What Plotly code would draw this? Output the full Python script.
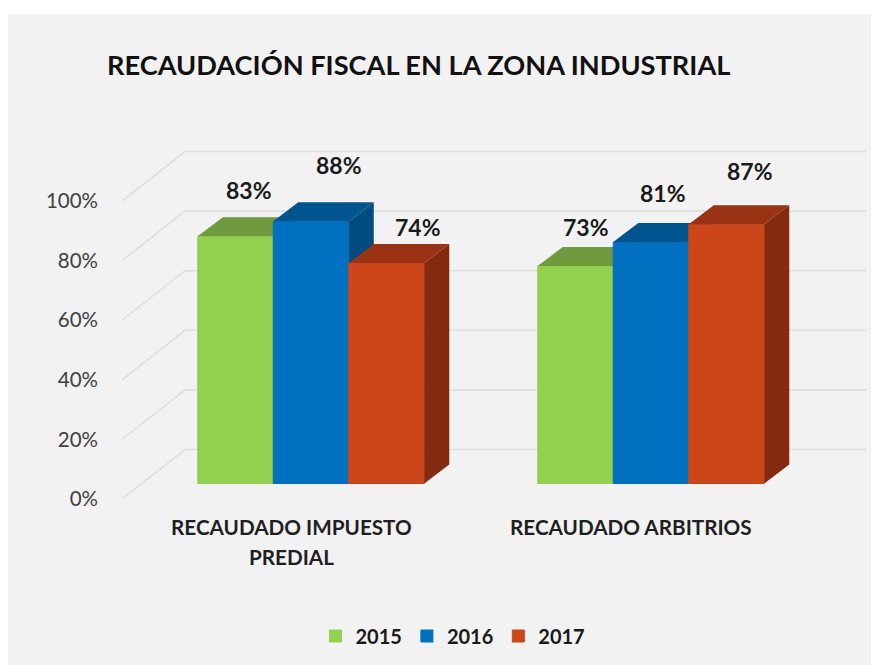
import plotly.graph_objects as go

# ---- data ----
TITLE = "RECAUDACIÓN FISCAL EN LA ZONA INDUSTRIAL"
CATEGORY_LINES = [["RECAUDADO IMPUESTO", "PREDIAL"], ["RECAUDADO ARBITRIOS"]]
YEARS = ["2015", "2016", "2017"]
VALUES_2015 = [83, 73]
VALUES_2016 = [88, 81]
VALUES_2017 = [74, 87]
Y_TICKS = [0, 20, 40, 60, 80, 100]

# ---- style ----
FONT = "Lato"
FRONT = {"2015": "#92D14F", "2016": "#0070C0", "2017": "#CD4619"}
TOP = {"2015": "#6F9A3D", "2016": "#00558F", "2017": "#993313"}
SIDE = {"2015": "#64893A", "2016": "#004B80", "2017": "#832A0F"}
GRID = "#DEDEDE"
BG = "#F2F2F2"
PAGE = 8  # the page's own margin round the figure
W, H = 879 - PAGE, 668 - PAGE
L, R, T, B = 122 - PAGE, 866 - PAGE, 140 - PAGE, 499 - PAGE
PX_PER_CAT = 340.0
PX_PER_PCT = 2.98
X0 = 311.0 - PAGE  # pixel of the first category centre


def xu(px):
    return px / PX_PER_CAT


def yu(px):
    return px / PX_PER_PCT


xrange_ = [xu(L - X0), xu(R - X0)]
yrange_ = [0, yu(B - T)]
BAR_W = xu(75.5)
BAR_BASE = yu(15.5)
DEPTH_X, DEPTH_Y = xu(25), yu(19)
WALL_X, WALL_Y = xu(63), yu(49.5)

# label offsets in pixels relative to the centre of the front of each bar's top
LABEL_DX = {"2015": [13, 10], "2016": [28, 12], "2017": [31, 23]}
LABEL_DY = {"2015": [46, 39], "2016": [56, 49], "2017": [36, 53]}

series = {"2015": VALUES_2015, "2016": VALUES_2016, "2017": VALUES_2017}
layers = {"2015": ("x2", "y2"), "2016": ("x3", "y3"), "2017": ("x4", "y4")}

fig = go.Figure()

# back wall and side wall gridlines
for v in Y_TICKS:
    fig.add_trace(go.Scatter(
        x=[xrange_[0], xrange_[0] + WALL_X, xrange_[1]],
        y=[v, v + WALL_Y, v + WALL_Y],
        mode="lines", line=dict(color=GRID, width=1.6),
        showlegend=False, hoverinfo="skip", xaxis="x", yaxis="y"))

annotations = []
for i, year in enumerate(YEARS):
    vals = series[year]
    xa, ya = layers[year]
    xs = [c + (i - 1) * BAR_W for c in range(len(vals))]
    fig.add_trace(go.Bar(
        x=xs, y=vals, base=BAR_BASE, width=BAR_W, name=year,
        marker=dict(color=FRONT[year], line=dict(color=FRONT[year], width=1)),
        legendrank=i + 1, hoverinfo="skip", xaxis=xa, yaxis=ya))
    for x, v in zip(xs, vals):
        right, left = x + BAR_W / 2, x - BAR_W / 2
        top = BAR_BASE + v
        fig.add_trace(go.Scatter(
            x=[right, right + DEPTH_X, right + DEPTH_X, right, right],
            y=[BAR_BASE, BAR_BASE + DEPTH_Y, top + DEPTH_Y, top, BAR_BASE],
            fill="toself", fillcolor=SIDE[year], mode="none",
            showlegend=False, hoverinfo="skip", xaxis=xa, yaxis=ya))
        fig.add_trace(go.Scatter(
            x=[left, right, right + DEPTH_X, left + DEPTH_X, left],
            y=[top, top, top + DEPTH_Y, top + DEPTH_Y, top],
            fill="toself", fillcolor=TOP[year], mode="none",
            showlegend=False, hoverinfo="skip", xaxis=xa, yaxis=ya))
    for k, (x, v) in enumerate(zip(xs, vals)):
        annotations.append(dict(
            x=x, y=BAR_BASE + v, xref="x", yref="y", text=f"<b>{v}%</b>",
            showarrow=False, xanchor="center", yanchor="middle",
            xshift=LABEL_DX[year][k], yshift=LABEL_DY[year][k],
            font=dict(family=FONT, size=23, color="#1A1A1A")))

# category labels, one annotation per line
for c, lines in enumerate(CATEGORY_LINES):
    for n, line in enumerate(lines):
        annotations.append(dict(
            x=c, y=0, xref="x", yref="y", text=f"<b>{line}</b>",
            showarrow=False, xanchor="center", yanchor="middle",
            xshift=-20, yshift=-(28 + 30 * n),
            font=dict(family=FONT, size=20.7, color="#1F1F1F")))

axis_common = dict(showgrid=False, zeroline=False, showline=False)
hidden = dict(visible=False, fixedrange=True)
layout_axes = dict(
    xaxis=dict(range=xrange_, showticklabels=False, ticks="", **axis_common),
    yaxis=dict(range=yrange_, tickvals=Y_TICKS, ticktext=[f"{v}%" for v in Y_TICKS],
               tickfont=dict(family=FONT, size=20.5, color="#404040"),
               ticks="", ticklabelstandoff=23, **axis_common),
)
for n in (2, 3, 4):
    layout_axes[f"xaxis{n}"] = dict(range=xrange_, overlaying="x", anchor=f"y{n}", **hidden)
    layout_axes[f"yaxis{n}"] = dict(range=yrange_, overlaying="y", anchor=f"x{n}", **hidden)

pw, ph = R - L, B - T
fig.update_layout(
    width=W, height=H, autosize=False,
    paper_bgcolor=BG, plot_bgcolor="rgba(0,0,0,0)",
    margin=dict(l=L, r=W - R, t=T, b=H - B, pad=0),
    title=dict(text=f"<b>{TITLE}</b>", x=(107 - PAGE) / W, xanchor="left",
               y=1 - (65 - PAGE) / H, yanchor="middle",
               font=dict(family=FONT, size=27.2, color="#111111")),
    legend=dict(orientation="h", x=(453 - PAGE) / W, xref="container", xanchor="center",
                y=1 - (636 - PAGE) / H, yref="container", yanchor="middle", traceorder="normal",
                font=dict(family=FONT, size=20, color="#1A1A1A", weight="bold"),
                bgcolor="rgba(0,0,0,0)"),
    shapes=[dict(type="rect", xref="paper", yref="paper", layer="below",
                 x0=-L / pw, x1=(W - L) / pw,
                 y0=(B - (14 - PAGE)) / ph, y1=B / ph,
                 fillcolor="#FFFFFF", line=dict(width=0))],
    annotations=annotations,
    **layout_axes,
)

fig.write_html("out.html")
